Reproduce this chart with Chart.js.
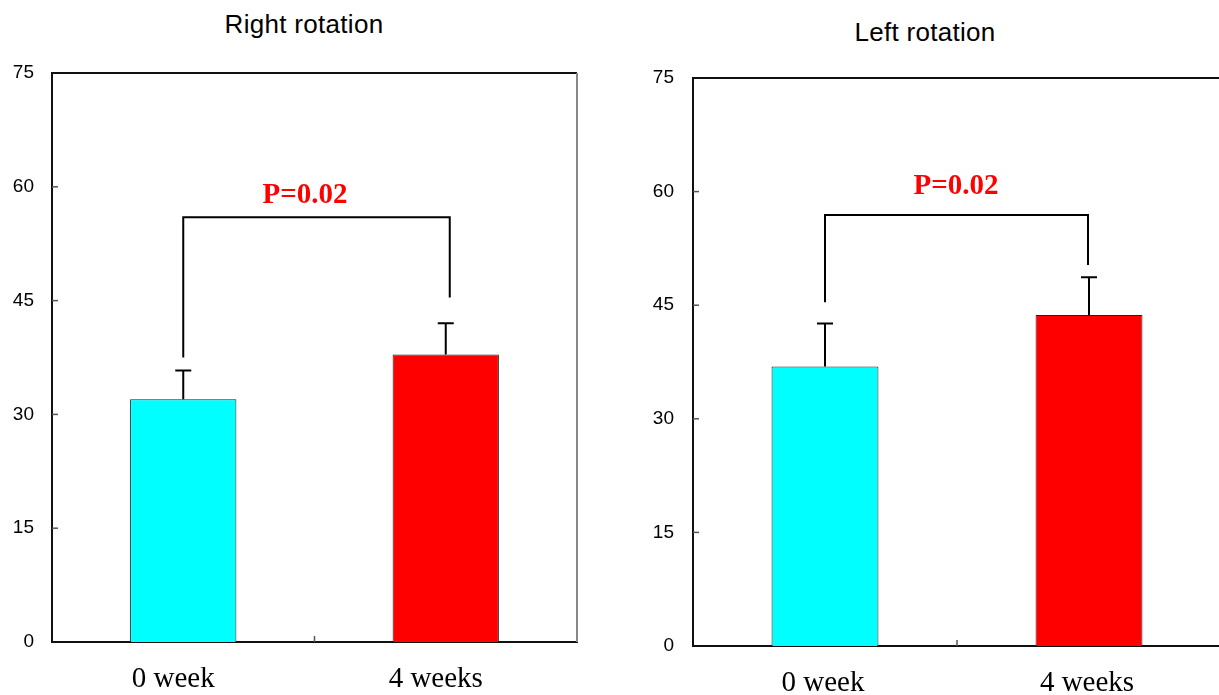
<!DOCTYPE html>
<html lang="en">
<head>
    <meta charset="UTF-8">
    <title>Rotation</title>
    <style>
        body {
            margin: 0;
            background: #fff;
            width: 1219px;
            height: 695px;
            overflow: hidden;
            position: relative;
        }
        .panel {
            position: absolute;
            top: 0;
            width: 600px;
            height: 695px;
        }
        .title {
            position: absolute;
            font-family: Arial, "Liberation Sans", sans-serif;
            font-size: 26px;
            letter-spacing: 0.3px;
            color: #000;
            text-align: center;
            width: 300px;
        }
    </style>
    <script src="https://cdn.jsdelivr.net/npm/chart.js"></script>
</head>
<body>
    <div class="title" style="left:154px; top:9px;">Right rotation</div>
    <div class="title" style="left:775px; top:17px;">Left rotation</div>
    <div class="panel" style="left:0px;"><canvas id="chartRight" width="600" height="695"></canvas></div>
    <div class="panel" style="left:640px;"><canvas id="chartLeft" width="600" height="695"></canvas></div>

    <script>
        const categories = ['0 week', '4 weeks'];
        const yTicks = [0, 15, 30, 45, 60, 75];
        const barColors = ['#00ffff', '#ff0000'];

        // Right rotation
        const rightMeans = [32.0, 37.9];
        const rightSD = [3.8, 4.1];
        const rightBracketTop = 56.0;
        const rightBracketEnds = [37.5, 45.4];

        // Left rotation
        const leftMeans = [36.9, 43.7];
        const leftSD = [5.7, 5.0];
        const leftBracketTop = 56.9;
        const leftBracketEnds = [45.4, 50.3];

        const pText = 'P=0.02';

        const annotPlugin = {
            id: 'annot',
            afterDatasetsDraw(chart, args, opts) {
                const ctx = chart.ctx;
                const xs = chart.scales.x;
                const ys = chart.scales.y;
                const area = chart.chartArea;
                ctx.save();

                // frame top/right
                ctx.lineWidth = 2;
                ctx.strokeStyle = '#111';
                ctx.beginPath();
                ctx.moveTo(area.left, area.top);
                ctx.lineTo(area.right, area.top);
                ctx.stroke();
                ctx.strokeStyle = '#888';
                ctx.beginPath();
                ctx.moveTo(area.right, area.top);
                ctx.lineTo(area.right, area.bottom);
                ctx.stroke();

                // inner tick marks
                ctx.strokeStyle = '#555';
                ctx.lineWidth = 1.5;
                yTicks.forEach(v => {
                    if (v === 0 || v === 75) return;
                    const y = ys.getPixelForValue(v);
                    ctx.beginPath();
                    ctx.moveTo(area.left, y);
                    ctx.lineTo(area.left + 6, y);
                    ctx.stroke();
                });
                const mid = (xs.getPixelForValue(0) + xs.getPixelForValue(1)) / 2;
                ctx.beginPath();
                ctx.moveTo(mid, area.bottom);
                ctx.lineTo(mid, area.bottom - 6);
                ctx.stroke();

                // error bars
                ctx.strokeStyle = '#000';
                ctx.lineWidth = 2;
                opts.means.forEach((m, i) => {
                    const x = xs.getPixelForValue(i);
                    const y0 = ys.getPixelForValue(m);
                    const y1 = ys.getPixelForValue(m + opts.sd[i]);
                    ctx.beginPath();
                    ctx.moveTo(x, y0);
                    ctx.lineTo(x, y1);
                    ctx.moveTo(x - 8, y1);
                    ctx.lineTo(x + 8, y1);
                    ctx.stroke();
                });

                // significance bracket
                const xa = xs.getPixelForValue(0);
                const xb = xs.getPixelForValue(1) + opts.legShift;
                const yt = ys.getPixelForValue(opts.bracketTop);
                ctx.beginPath();
                ctx.moveTo(xa, ys.getPixelForValue(opts.bracketEnds[0]));
                ctx.lineTo(xa, yt);
                ctx.lineTo(xb, yt);
                ctx.lineTo(xb, ys.getPixelForValue(opts.bracketEnds[1]));
                ctx.stroke();

                ctx.fillStyle = '#ff0000';
                ctx.font = 'bold 29px "Liberation Serif", "Times New Roman", serif';
                ctx.textAlign = 'center';
                ctx.textBaseline = 'middle';
                ctx.fillText(pText, opts.textX, yt - opts.textGap);
                ctx.restore();
            }
        };

        function makeChart(id, means, sd, bracketTop, bracketEnds, layout) {
            return new Chart(document.getElementById(id), {
                type: 'bar',
                data: {
                    labels: categories,
                    datasets: [{
                        data: means,
                        backgroundColor: barColors,
                        borderColor: '#222',
                        borderWidth: 1,
                        barPercentage: 0.405,
                        categoryPercentage: 1.0
                    }]
                },
                options: {
                    responsive: false,
                    animation: false,
                    layout: {
                        padding: { left: 0, top: layout.top, right: layout.right, bottom: 0 }
                    },
                    plugins: {
                        legend: { display: false },
                        tooltip: { enabled: false },
                        annot: {
                            means: means,
                            sd: sd,
                            bracketTop: bracketTop,
                            bracketEnds: bracketEnds,
                            textX: layout.textX,
                            textGap: layout.textGap,
                            legShift: layout.legShift
                        }
                    },
                    scales: {
                        x: {
                            grid: { display: false },
                            border: { display: true, color: '#111', width: 2 },
                            ticks: {
                                color: '#000',
                                padding: layout.xPad,
                                labelOffset: layout.labelOffset,
                                font: { family: '"Liberation Serif", "Times New Roman", serif', size: 29 }
                            },
                            afterFit(scale) { scale.height = layout.xHeight; }
                        },
                        y: {
                            min: 0,
                            max: 75,
                            afterBuildTicks(scale) { scale.ticks = yTicks.map(v => ({ value: v })); },
                            grid: { display: false },
                            border: { display: true, color: '#111', width: 2 },
                            ticks: {
                                color: '#000',
                                padding: layout.yPad,
                                font: { family: '"Liberation Sans", Arial, sans-serif', size: 19 }
                            },
                            afterFit(scale) { scale.width = layout.yWidth; }
                        }
                    }
                },
                plugins: [annotPlugin]
            });
        }

        makeChart('chartRight', rightMeans, rightSD, rightBracketTop, rightBracketEnds,
            { top: 73, right: 23, yWidth: 52, xHeight: 53, xPad: 12, yPad: 10, labelOffset: -10,
              textX: 305, textGap: 22, legShift: 4 });
        makeChart('chartLeft', leftMeans, leftSD, leftBracketTop, leftBracketEnds,
            { top: 78, right: 19, yWidth: 53, xHeight: 49, xPad: 12, yPad: 11, labelOffset: -2,
              textX: 316, textGap: 29, legShift: -1 });
    </script>
</body>
</html>
